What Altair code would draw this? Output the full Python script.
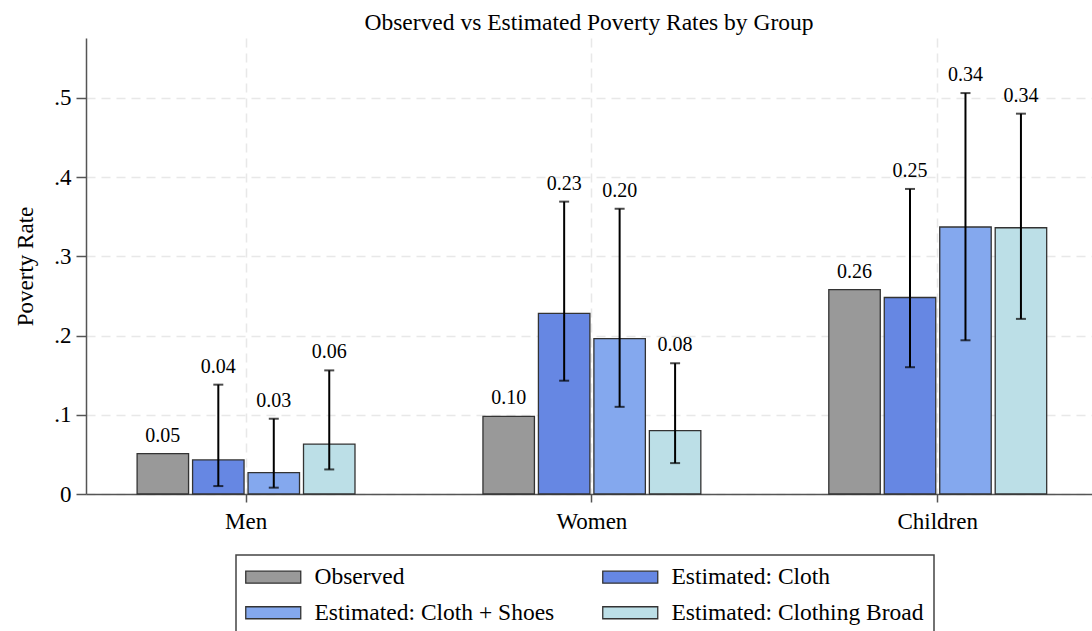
import altair as alt
import pandas as pd

# Groups, series and colours
groups = ["Men", "Women", "Children"]
series = ["Observed", "Estimated: Cloth", "Estimated: Cloth + Shoes", "Estimated: Clothing Broad"]
colors = ["#999999", "#6687E3", "#84A8EE", "#BCDFE7"]

# Poverty rates per group (Men, Women, Children)
observed = [0.051, 0.098, 0.258]

cloth = [0.043, 0.228, 0.248]
cloth_lo = [0.010, 0.143, 0.160]
cloth_hi = [0.138, 0.369, 0.385]

shoes = [0.027, 0.196, 0.337]
shoes_lo = [0.008, 0.110, 0.194]
shoes_hi = [0.095, 0.360, 0.506]

broad = [0.063, 0.080, 0.336]
broad_lo = [0.031, 0.039, 0.221]
broad_hi = [0.156, 0.165, 0.480]

FONT = "Liberation Serif"

rows = []
for i, g in enumerate(groups):
    rows.append({"group": g, "series": series[0], "value": observed[i],
                 "lo": None, "hi": None, "top": observed[i]})
    for s, v, lo, hi in [(series[1], cloth, cloth_lo, cloth_hi),
                         (series[2], shoes, shoes_lo, shoes_hi),
                         (series[3], broad, broad_lo, broad_hi)]:
        rows.append({"group": g, "series": s, "value": v[i],
                     "lo": lo[i], "hi": hi[i], "top": max(v[i], hi[i])})
df = pd.DataFrame(rows)

x_enc = alt.X(
    "group:N", sort=groups,
    scale=alt.Scale(domain=groups, paddingInner=0.37, paddingOuter=0.1394, align=0.53),
    axis=alt.Axis(title=None, labelAngle=0, labelFontSize=23, labelPadding=8,
                  tickSize=8, grid=True, bandPosition=0.5, labelColor="black"),
)
xo_enc = alt.XOffset("series:N", sort=series,
                     scale=alt.Scale(domain=series, paddingInner=0.072, paddingOuter=0))
y_scale = alt.Scale(domain=[0, 0.5755], nice=False, zero=True)

base = alt.Chart(df)

# wide flat legend swatch: 55 x 12 px
swatch = "M-2,-1H7.1667V1H-2Z"

bars = base.mark_bar(stroke="#333333", strokeWidth=1.3).encode(
    x=x_enc,
    xOffset=xo_enc,
    y=alt.Y("value:Q", scale=y_scale,
            axis=alt.Axis(values=[0, 0.1, 0.2, 0.3, 0.4, 0.5],
                          labelExpr="datum.value == 0 ? '0' : replace(format(datum.value, '.1f'), '0.', '.')",
                          labelFontSize=23, labelPadding=5, tickSize=10, labelColor="black",
                          title="Poverty Rate", titleFontSize=23, titleFontWeight="normal",
                          titleColor="black", titleX=-61, titleY=228, titleAngle=270,
                          titleBaseline="middle", titleAlign="center")),
    color=alt.Color("series:N", sort=series,
                    scale=alt.Scale(domain=series, range=colors),
                    legend=alt.Legend(title=None, orient="none", legendX=150, legendY=517,
                                      direction="horizontal", columns=2,
                                      symbolType=swatch, symbolSize=144,
                                      symbolStrokeColor="#333333",
                                      symbolStrokeWidth=1.3, symbolOpacity=1,
                                      labelFont=FONT, labelFontSize=23.5, labelColor="black",
                                      labelOffset=45, labelLimit=400, columnPadding=45,
                                      rowPadding=11, padding=10, strokeColor="#444444")),
)

ci = base.transform_filter("datum.hi != null")

whisker = ci.mark_rule(color="black", strokeWidth=2).encode(
    x=x_enc, xOffset=xo_enc, y=alt.Y("lo:Q", scale=y_scale), y2="hi:Q")
cap_hi = ci.mark_tick(color="black", size=10, thickness=2, orient="horizontal").encode(
    x=x_enc, xOffset=xo_enc, y=alt.Y("hi:Q", scale=y_scale))
cap_lo = ci.mark_tick(color="black", size=10, thickness=2, orient="horizontal").encode(
    x=x_enc, xOffset=xo_enc, y=alt.Y("lo:Q", scale=y_scale))

labels = base.mark_text(font=FONT, fontSize=20, baseline="alphabetic", dy=-12,
                        color="black").encode(
    x=x_enc, xOffset=xo_enc, y=alt.Y("top:Q", scale=y_scale),
    text=alt.Text("value:Q", format=".2f"))

chart = alt.layer(bars, whisker, cap_hi, cap_lo, labels).properties(
    width=1006, height=456,
    title=alt.TitleParams("Observed vs Estimated Poverty Rates by Group", font=FONT,
                          fontSize=23.5, fontWeight="normal", color="black",
                          anchor="middle", frame="group", baseline="alphabetic",
                          offset=9, dy=24),
    padding={"left": 86, "top": 38, "right": 0, "bottom": 137},
    autosize=alt.AutoSizeParams(type="none"),
).configure_view(stroke=None).configure_axis(
    labelFont=FONT, titleFont=FONT,
    gridColor="#e8e8e8", gridDash=[9, 6], gridWidth=1.5,
    domainColor="#555555", domainWidth=1.5, tickColor="#555555", tickWidth=1.5,
).configure_legend(strokeWidth=1.5)

chart.save("out.html", embed_options={"renderer": "svg", "actions": False})
